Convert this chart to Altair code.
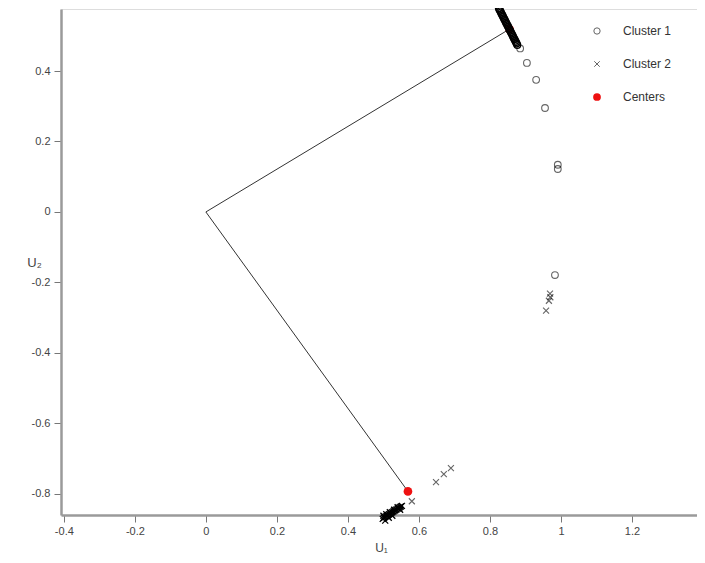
import altair as alt
import pandas as pd

# Cluster 1 (open circles) - dense arc near top plus stragglers
c1_x = [0.825, 0.827, 0.829, 0.831, 0.833, 0.835, 0.837, 0.839, 0.841, 0.843, 0.845, 0.847,
        0.849, 0.851, 0.853, 0.855, 0.857, 0.859, 0.861, 0.863, 0.865, 0.867, 0.869, 0.871,
        0.873, 0.875, 0.877, 0.885, 0.904, 0.930, 0.955, 0.991, 0.991, 0.983]
c1_y = [0.578, 0.574, 0.570, 0.566, 0.562, 0.558, 0.554, 0.550, 0.546, 0.542, 0.538, 0.534,
        0.530, 0.526, 0.522, 0.518, 0.514, 0.510, 0.506, 0.502, 0.498, 0.494, 0.490, 0.486,
        0.482, 0.478, 0.474, 0.464, 0.423, 0.375, 0.295, 0.134, 0.122, -0.179]
C1_DENSE = 27  # first points form the dense arc

# Cluster 2 (crosses)
c2_x = [0.969, 0.970, 0.966, 0.958, 0.690, 0.670, 0.648, 0.580,
        0.552, 0.549, 0.546, 0.543, 0.540, 0.537, 0.534, 0.531, 0.528, 0.525, 0.522, 0.519,
        0.516, 0.513, 0.510, 0.507, 0.504, 0.501, 0.498, 0.505, 0.515, 0.525,
        0.500, 0.508, 0.518, 0.530, 0.540, 0.547]
c2_y = [-0.232, -0.242, -0.252, -0.280, -0.727, -0.744, -0.767, -0.821,
        -0.834, -0.836, -0.838, -0.840, -0.842, -0.844, -0.846, -0.848, -0.850, -0.852, -0.854, -0.856,
        -0.858, -0.860, -0.862, -0.864, -0.866, -0.868, -0.871, -0.876, -0.868, -0.862,
        -0.862, -0.858, -0.852, -0.845, -0.838, -0.845]
C2_SPARSE = 8  # first points are isolated; the rest form the dense clump

# Centers
cen_x = [0.855, 0.569]
cen_y = [0.519, -0.793]

# Path: center 1 -> origin -> center 2
path_x = [0.855, 0.0, 0.569]
path_y = [0.519, 0.0, -0.793]

x_ticks = [-0.4, -0.2, 0, 0.2, 0.4, 0.6, 0.8, 1, 1.2]
y_ticks = [-0.8, -0.6, -0.4, -0.2, 0, 0.2, 0.4]

FONT = "Liberation Sans"
xdom = [-0.408, 1.383]
ydom = [-0.86, 0.576]

xs = alt.Scale(domain=xdom, nice=False, zero=False)
ys = alt.Scale(domain=ydom, nice=False, zero=False)

xaxis = alt.Axis(values=x_ticks, grid=False, title="U\u2081", labelExpr="toString(datum.value)",
                 domainColor="#9a9a9a", domainWidth=2.5, tickColor="#777", tickSize=7,
                 labelColor="#444", labelFont=FONT, labelFontSize=11, labelPadding=3,
                 titleFont=FONT, titleFontSize=12, titleFontWeight="normal", titleColor="#444",
                 titleX=320, titleY=32, titleAlign="center", titleBaseline="middle")
yaxis = alt.Axis(values=y_ticks, grid=False, title="U\u2082", labelExpr="toString(datum.value)",
                 domainColor="#9a9a9a", domainWidth=2.5, tickColor="#777", tickSize=7,
                 labelColor="#444", labelFont=FONT, labelFontSize=11, labelPadding=4,
                 titleFont=FONT, titleFontSize=13, titleFontWeight="normal", titleColor="#444",
                 titleAngle=0, titleX=-27, titleY=253, titleAlign="center", titleBaseline="middle")

path_df = pd.DataFrame({"x": path_x, "y": path_y, "o": [0, 1, 2]})
c1_dense = pd.DataFrame({"x": c1_x[:C1_DENSE], "y": c1_y[:C1_DENSE]})
c1_sparse = pd.DataFrame({"x": c1_x[C1_DENSE:], "y": c1_y[C1_DENSE:]})
c2_sparse = pd.DataFrame({"x": c2_x[:C2_SPARSE], "y": c2_y[:C2_SPARSE]})
c2_dense = pd.DataFrame({"x": c2_x[C2_SPARSE:], "y": c2_y[C2_SPARSE:]})
cen_df = pd.DataFrame({"x": cen_x, "y": cen_y})

line = alt.Chart(path_df).mark_line(color="#333", strokeWidth=1).encode(
    x=alt.X("x:Q", scale=xs, axis=xaxis),
    y=alt.Y("y:Q", scale=ys, axis=yaxis),
    order="o:Q",
)

centers = alt.Chart(cen_df).mark_point(shape="circle", filled=True, color="#ee1111", size=75, opacity=1).encode(
    x=alt.X("x:Q", scale=xs), y=alt.Y("y:Q", scale=ys))

CROSS = "M-1,-1L1,1M1,-1L-1,1"
def pts(df, shape, size, op, sw):
    return alt.Chart(df).mark_point(shape=shape, filled=False, color="#000", size=size, strokeWidth=sw, opacity=op).encode(
        x=alt.X("x:Q", scale=xs), y=alt.Y("y:Q", scale=ys))

c1a = pts(c1_dense, "circle", 45, 1, 1.3)
c1b = pts(c1_sparse, "circle", 45, 0.6, 1.1)
c2a = pts(c2_dense, CROSS, 36, 1, 1.3)
c2b = pts(c2_sparse, CROSS, 36, 0.6, 1.1)

# Manual legend
leg_labels = ["Cluster 1", "Cluster 2", "Centers"]
def leg_row(i, shape, filled, color, size, op):
    d = pd.DataFrame({"t": [leg_labels[i]]})
    yy = 22 + 33 * i
    sym = alt.Chart(d).mark_point(shape=shape, filled=filled, color=color, size=size, strokeWidth=1, opacity=op).encode(
        x=alt.value(536), y=alt.value(yy))
    txt = alt.Chart(d).mark_text(align="left", baseline="middle", font=FONT, fontSize=12, color="#333").encode(
        x=alt.value(562), y=alt.value(yy), text="t:N")
    return sym + txt

legend = (leg_row(0, "circle", False, "#000", 40, 0.6) + leg_row(1, CROSS, False, "#000", 30, 0.6)
          + leg_row(2, "circle", True, "#ee1111", 60, 1))

chart = alt.layer(line, centers, c1a, c1b, c2a, c2b, legend).properties(
    width=636, height=506,
    padding={"left": 53, "top": 1, "right": 0, "bottom": 38},
    autosize=alt.AutoSizeParams(type="none"),
).configure_view(stroke="#444", strokeWidth=1.2).configure(background="white")

chart.save("out.html", embed_options={"renderer": "svg", "actions": False})
